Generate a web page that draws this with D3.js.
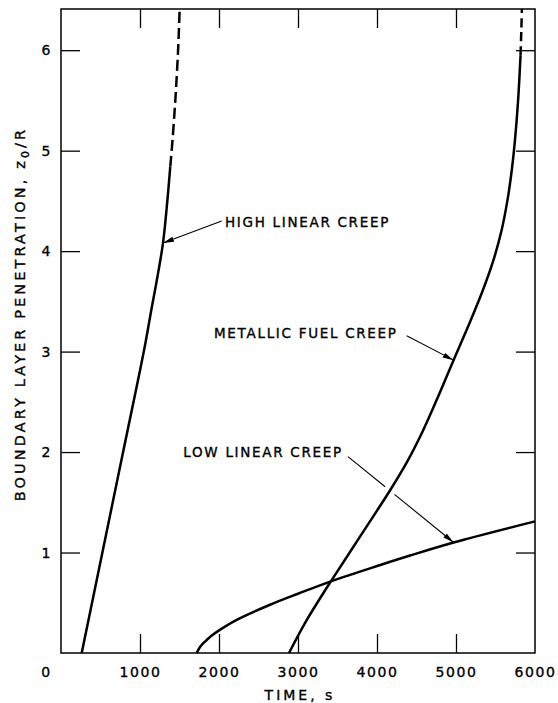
<!DOCTYPE html>
<html lang="en">
<head>
<meta charset="UTF-8" />
<title>boundary layer penetration</title>
<script src="https://cdn.jsdelivr.net/npm/d3@7"></script>
<style>
    html, body { margin: 0; padding: 0; background: #fff; }
    svg { display: block; font-family: "DejaVu Sans", sans-serif; }
    svg text { stroke: #000; stroke-width: 0.35px; }
    .curve { fill: none; stroke: #000; stroke-width: 2.5; }
    .leader { fill: none; stroke: #000; stroke-width: 1.1; }
    .axis path { display: none; }
    .axis line { stroke: #000; stroke-width: 1.3; }
    .axis text { font-family: "DejaVu Sans", sans-serif; font-size: 14px; fill: #000; letter-spacing: 1.6px; }
</style>
</head>
<body>
<svg id="chart" width="558" height="703"></svg>
<script>
    // time in s, penetration z0/R
    const highSolid = [[262, 0], [524, 1], [786, 2], [1048, 3], [1140, 3.4], [1222, 3.75], [1291, 4.08], [1346, 4.5], [1383, 4.84]]
    const highDashed = [[1383, 4.84], [1401, 5], [1447, 5.5], [1482, 6], [1502, 6.41]]
    const metalSolid = [[2886, 0], [3090, 0.3], [3324, 0.6], [3422, 0.72], [3654, 1.0], [3986, 1.4], [4166, 1.62],
        [4379, 1.9], [4574, 2.2], [4745, 2.5], [4969, 2.915], [5180, 3.3], [5335, 3.6], [5470, 3.9], [5575, 4.2],
        [5650, 4.5], [5705, 4.8], [5746, 5.1], [5786, 5.5], [5817, 5.95]]
    const metalDashed = [[5817, 5.95], [5827, 6.2], [5834, 6.41]]
    const lowLinear = [[1718, 0], [1760, 0.06], [1818, 0.11], [1886, 0.16], [2050, 0.25], [2224, 0.33], [2646, 0.48],
        [3000, 0.59], [3426, 0.716], [4042, 0.876], [4418, 0.97], [4970, 1.1], [6000, 1.31]]

    const xTicks = [0, 1000, 2000, 3000, 4000, 5000, 6000]
    const yTicks = [1, 2, 3, 4, 5, 6]

    // label anchor (t, z) and leader from (t, z) to (t, z)
    const labels = [
        { text: 'HIGH LINEAR CREEP', at: [2076, 4.29], from: [2034, 4.3], to: [1291, 4.08] },
        { text: 'METALLIC FUEL CREEP', at: [1937, 3.18], from: [4376, 3.157], to: [4969, 2.915] },
        { text: 'LOW LINEAR CREEP', at: [1548, 1.995], from: [3633, 1.955], to: [4970, 1.1], gap: true },
    ]

    const plot = { left: 61, right: 535, top: 9, bottom: 653 }

    const svg = d3.select('#chart')

    const x = d3.scaleLinear().domain([0, 6000]).range([plot.left, plot.right])
    const y = d3.scaleLinear().domain([0, 6.41]).range([plot.bottom, plot.top])

    svg.append('defs').append('marker')
        .attr('id', 'arrow')
        .attr('viewBox', '0 0 11 6')
        .attr('refX', 11).attr('refY', 3)
        .attr('markerWidth', 11).attr('markerHeight', 6)
        .attr('markerUnits', 'userSpaceOnUse')
        .attr('orient', 'auto')
        .append('path')
        .attr('d', 'M0,0.4 L11,3 L0,5.6 Z')
        .attr('fill', '#000')

    // frame
    svg.append('rect')
        .attr('x', plot.left).attr('y', plot.top)
        .attr('width', plot.right - plot.left).attr('height', plot.bottom - plot.top)
        .attr('fill', 'none').attr('stroke', '#000').attr('stroke-width', 1.5)

    const tick = 19
    svg.append('g').attr('class', 'axis')
        .attr('transform', `translate(0,${plot.bottom})`)
        .call(d3.axisBottom(x).tickValues(xTicks).tickSizeInner(-tick).tickSizeOuter(0).tickPadding(14).tickFormat(d3.format('d')))
        .call(g => g.selectAll('.tick').filter(d => d === 0 || d === 6000).select('line').remove())
        .call(g => g.selectAll('.tick').filter(d => d === 0).select('text').attr('dx', -15))

    svg.append('g').attr('class', 'axis')
        .attr('transform', `translate(0,${plot.top})`)
        .call(d3.axisTop(x).tickValues(xTicks.slice(1, -1)).tickSizeInner(-tick).tickSizeOuter(0).tickFormat(''))

    svg.append('g').attr('class', 'axis')
        .attr('transform', `translate(${plot.left},0)`)
        .call(d3.axisLeft(y).tickValues(yTicks).tickSizeInner(-tick).tickSizeOuter(0).tickPadding(9).tickFormat(d3.format('d')))

    svg.append('g').attr('class', 'axis')
        .attr('transform', `translate(${plot.right},0)`)
        .call(d3.axisRight(y).tickValues(yTicks).tickSizeInner(-tick).tickSizeOuter(0).tickFormat(''))

    // axis titles
    svg.append('text')
        .attr('x', (plot.left + plot.right) / 2 + 2)
        .attr('y', 700)
        .attr('text-anchor', 'middle')
        .style('font-size', '14px')
        .style('letter-spacing', '3px')
        .text('TIME, s')

    const ylab = svg.append('text')
        .attr('transform', 'translate(25,314) rotate(-90)')
        .attr('text-anchor', 'middle')
        .style('font-size', '14.5px')
        .style('letter-spacing', '3.1px')
    ylab.append('tspan').text('BOUNDARY LAYER PENETRATION, z')
    ylab.append('tspan').attr('dy', 4).style('font-size', '11px').text('0')
    ylab.append('tspan').attr('dy', -4).text('/R')

    // curves
    const line = d3.line().x(d => x(d[0])).y(d => y(d[1])).curve(d3.curveCatmullRom.alpha(0.5))

    svg.append('path').attr('class', 'curve').attr('d', line(highSolid))
    svg.append('path').attr('class', 'curve').attr('d', line(highDashed)).attr('stroke-dasharray', '11,5')
    const metal = svg.append('path').attr('class', 'curve').attr('d', line(metalSolid))
    svg.append('path').attr('class', 'curve').attr('d', line(metalDashed)).attr('stroke-dasharray', '9,5')
    svg.append('path').attr('class', 'curve').attr('d', line(lowLinear))

    // where a leader crosses the metallic curve (as a fraction of the leader)
    function crossing(p0, p1) {
        const node = metal.node()
        const len = node.getTotalLength()
        const dx = p1[0] - p0[0], dy = p1[1] - p0[1]
        const side = p => (p.x - p0[0]) * dy - (p.y - p0[1]) * dx
        let prev = node.getPointAtLength(0)
        for (let s = 1; s <= len; s += 1) {
            const pt = node.getPointAtLength(s)
            if (Math.sign(side(pt)) !== Math.sign(side(prev))) {
                return ((pt.x - p0[0]) * dx + (pt.y - p0[1]) * dy) / (dx * dx + dy * dy)
            }
            prev = pt
        }
        return null
    }

    labels.forEach(l => {
        svg.append('text')
            .attr('x', x(l.at[0]))
            .attr('y', y(l.at[1]))
            .attr('dy', '0.36em')
            .style('font-size', '13.5px')
            .style('letter-spacing', '1.7px')
            .text(l.text)

        const p0 = [x(l.from[0]), y(l.from[1])]
        const p1 = [x(l.to[0]), y(l.to[1])]
        const f = l.gap ? crossing(p0, p1) : null
        if (f !== null) {
            const L = Math.hypot(p1[0] - p0[0], p1[1] - p0[1])
            const g = 6 / L
            const at = t => [p0[0] + (p1[0] - p0[0]) * t, p0[1] + (p1[1] - p0[1]) * t]
            svg.append('path').attr('class', 'leader').attr('d', d3.line()([p0, at(f - g)]))
            svg.append('path').attr('class', 'leader').attr('d', d3.line()([at(f + g), p1])).attr('marker-end', 'url(#arrow)')
        } else {
            svg.append('path').attr('class', 'leader').attr('d', d3.line()([p0, p1])).attr('marker-end', 'url(#arrow)')
        }
    })
</script>
</body>
</html>
